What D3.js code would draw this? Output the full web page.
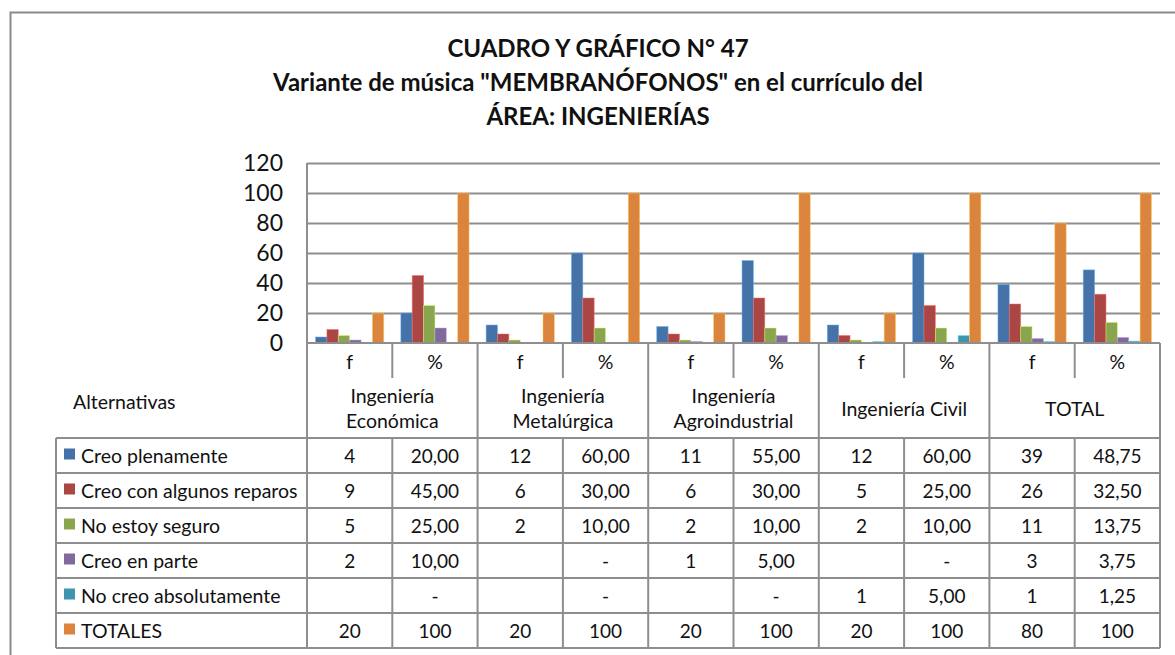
<!DOCTYPE html>
<html>
<head>
<meta charset="utf-8">
<script src="https://cdn.jsdelivr.net/npm/d3@7"></script>
<style>
  body { margin: 0; background: #fff; }
  svg { display: block; font-family: Lato, "Open Sans", "DejaVu Sans", sans-serif; }
</style>
</head>
<body>
<svg id="chart" width="1175" height="655"></svg>
<script>
// ---- data ----
const titleLines = [
  "CUADRO Y GRÁFICO N° 47",
  "Variante de música \"MEMBRANÓFONOS\" en el currículo del",
  "ÁREA: INGENIERÍAS"
];
const groupLabels = [
  ["Ingeniería", "Económica"],
  ["Ingeniería", "Metalúrgica"],
  ["Ingeniería", "Agroindustrial"],
  ["Ingeniería Civil"],
  ["TOTAL"]
];
const subColumns = ["f", "%"];
const rowHeader = "Alternativas";
const seriesNames = [
  "Creo plenamente",
  "Creo con algunos reparos",
  "No estoy seguro",
  "Creo en parte",
  "No creo absolutamente",
  "TOTALES"
];
const seriesColors = ["#4572A7", "#AA4643", "#89A54E", "#80699B", "#3D96AE", "#DB843D"];

// values per column: Eco f, Eco %, Met f, Met %, Agro f, Agro %, Civil f, Civil %, Total f, Total %
// null = empty cell, 0 = "-"
const creoPlenamente      = [4, 20, 12, 60, 11, 55, 12, 60, 39, 48.75];
const creoConReparos      = [9, 45, 6, 30, 6, 30, 5, 25, 26, 32.5];
const noEstoySeguro       = [5, 25, 2, 10, 2, 10, 2, 10, 11, 13.75];
const creoEnParte         = [2, 10, null, 0, 1, 5, null, 0, 3, 3.75];
const noCreoAbsolutamente = [null, 0, null, 0, null, 0, 1, 5, 1, 1.25];
const totales             = [20, 100, 20, 100, 20, 100, 20, 100, 80, 100];
const yTicks = [0, 20, 40, 60, 80, 100, 120];

const seriesValues = [creoPlenamente, creoConReparos, noEstoySeguro, creoEnParte, noCreoAbsolutamente, totales];

// ---- layout ----
const W = 1175, H = 655;
const plot = { left: 307, right: 1160, top: 163, bottom: 343 };
const table = { left: 56, subTop: 343, groupTop: 378, rowsTop: 438, rowH: 35 };
const gridColor = "#8e8e8e";
const textColor = "#111";
const labelSize = 19.5;
const numberSize = 19;

const svg = d3.select("#chart");
svg.append("rect").attr("width", W).attr("height", H).attr("fill", "#fff");

// chart frame
svg.append("rect")
  .attr("x", 10.5).attr("y", 12.5).attr("width", 1220).attr("height", 700)
  .attr("fill", "none").attr("stroke", "#8a8a8a").attr("stroke-width", 2);

// title
svg.append("g").selectAll("text").data(titleLines).join("text")
  .attr("x", 598).attr("y", (d, i) => 47 + i * 34)
  .attr("text-anchor", "middle").attr("dominant-baseline", "central")
  .attr("font-weight", 700).attr("font-size", 24).attr("fill", textColor)
  .text(d => d);

// scales
const columns = d3.range(seriesValues[0].length).map(i => "c" + i);
const x = d3.scaleBand().domain(columns).range([plot.left, plot.right]).padding(0);
const xs = d3.scaleBand().domain(seriesNames).range([0, x.bandwidth()])
  .paddingInner(0).paddingOuter(0.75);
const y = d3.scaleLinear().domain([0, 120]).range([plot.bottom, plot.top]);

// gridlines
svg.append("g").selectAll("line").data(yTicks.filter(t => t > 0)).join("line")
  .attr("x1", plot.left).attr("x2", plot.right)
  .attr("y1", d => Math.round(y(d)) + 0.5).attr("y2", d => Math.round(y(d)) + 0.5)
  .attr("stroke", gridColor).attr("stroke-width", 2);

// y axis labels
const yAxis = d3.axisLeft(y).tickValues(yTicks).tickSize(0).tickPadding(0);
const yg = svg.append("g").attr("transform", `translate(${plot.left - 24},0)`).call(yAxis);
yg.select(".domain").remove();
yg.selectAll("text").attr("font-size", 23).attr("fill", textColor)
  .attr("font-family", "Lato, 'Open Sans', sans-serif");

// bars
const barData = [];
seriesValues.forEach((vals, s) => {
  vals.forEach((v, c) => {
    if (v != null && v > 0) barData.push({ s, c, v });
  });
});
svg.append("g").selectAll("rect").data(barData).join("rect")
  .attr("x", d => x(columns[d.c]) + xs(seriesNames[d.s]))
  .attr("width", xs.bandwidth())
  .attr("y", d => y(d.v))
  .attr("height", d => y(0) - y(d.v))
  .attr("fill", d => seriesColors[d.s])
  .attr("stroke", d => d3.color(seriesColors[d.s]).brighter(1.2))
  .attr("stroke-width", 0.8)
  .attr("stroke-opacity", 0.6);

// ---- data table ----
const tg = svg.append("g");
const line = (x1, y1, x2, y2) => tg.append("line")
  .attr("x1", x1).attr("y1", y1).attr("x2", x2).attr("y2", y2)
  .attr("stroke", gridColor).attr("stroke-width", 2);

const rowsBottom = table.rowsTop + table.rowH * seriesNames.length;

// axis / table top line and plot left edge
line(plot.left, plot.bottom, plot.right, plot.bottom);
line(plot.left, plot.top, plot.left, rowsBottom);

// column boundaries
columns.forEach((c, i) => {
  const xr = x(c) + x.bandwidth();
  if (i % 2 === 1) {
    line(xr, table.subTop, xr, rowsBottom);
  } else {
    line(xr, table.subTop, xr, table.groupTop);
    line(xr, table.rowsTop, xr, rowsBottom);
  }
});

// row lines and left border
d3.range(seriesNames.length + 1).forEach(r => {
  const yy = table.rowsTop + r * table.rowH;
  line(table.left, yy, plot.right, yy);
});
line(table.left, table.rowsTop, table.left, rowsBottom);

// sub column headers f / %
tg.append("g").selectAll("text").data(columns).join("text")
  .attr("x", d => x(d) + x.bandwidth() / 2)
  .attr("y", (table.subTop + table.groupTop) / 2 + 1)
  .attr("text-anchor", "middle").attr("dominant-baseline", "central")
  .attr("font-size", labelSize).attr("fill", textColor)
  .text((d, i) => subColumns[i % 2]);

// group headers
groupLabels.forEach((lines, g) => {
  const cx = x(columns[g * 2]) + x.bandwidth();
  const mid = (table.groupTop + table.rowsTop) / 2;
  lines.forEach((t, k) => {
    tg.append("text")
      .attr("x", cx)
      .attr("y", mid + (k - (lines.length - 1) / 2) * 25)
      .attr("text-anchor", "middle").attr("dominant-baseline", "central")
      .attr("font-size", labelSize).attr("fill", textColor)
      .text(t);
  });
});

tg.append("text")
  .attr("x", 73).attr("y", 401)
  .attr("dominant-baseline", "central")
  .attr("font-size", labelSize).attr("fill", textColor)
  .text(rowHeader);

// legend keys, labels and cell values
const fmt = (v, c, s) => {
  if (v == null) return "";
  if (v === 0) return "-";
  if (c % 2 === 0 || s === seriesNames.length - 1) return String(v);
  return d3.format(".2f")(v).replace(".", ",");
};

seriesNames.forEach((name, s) => {
  const mid = table.rowsTop + s * table.rowH + table.rowH / 2;
  tg.append("rect")
    .attr("x", 64).attr("y", mid - 7).attr("width", 11).attr("height", 11)
    .attr("fill", seriesColors[s]);
  tg.append("text")
    .attr("x", 81).attr("y", mid)
    .attr("dominant-baseline", "central")
    .attr("font-size", labelSize).attr("fill", textColor)
    .text(name);
  tg.append("g").selectAll("text").data(seriesValues[s]).join("text")
    .attr("x", (d, c) => x(columns[c]) + x.bandwidth() / 2)
    .attr("y", mid)
    .attr("text-anchor", "middle").attr("dominant-baseline", "central")
    .attr("font-size", numberSize).attr("fill", textColor)
    .text((d, c) => fmt(d, c, s));
});
</script>
</body>
</html>
